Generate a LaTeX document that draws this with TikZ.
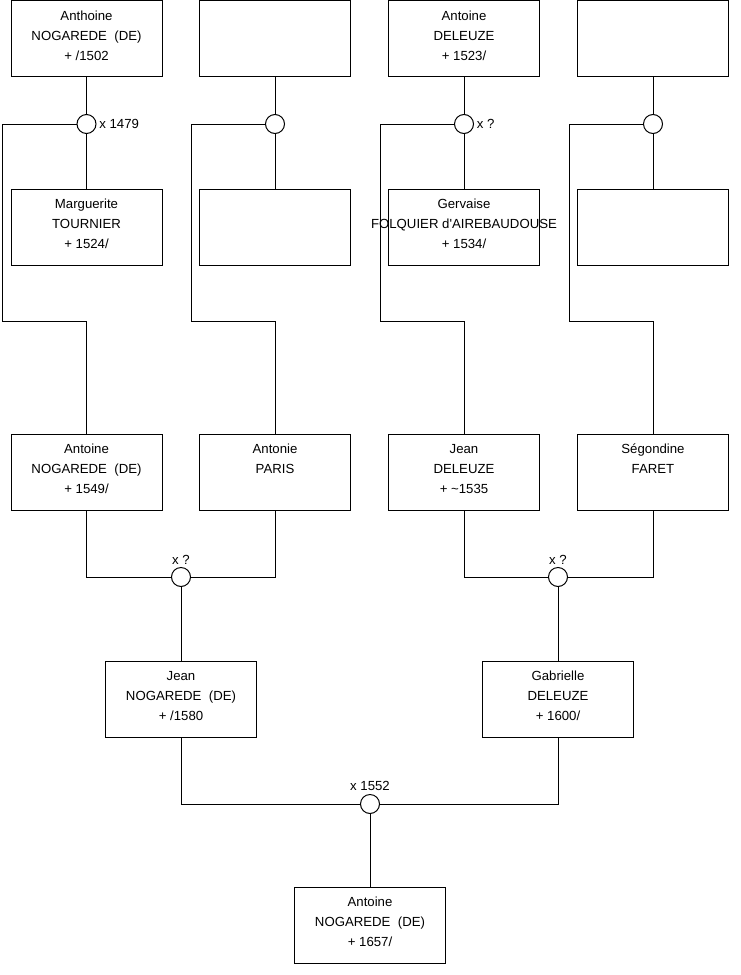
\documentclass[tikz,border=0pt]{standalone}
\usepackage{fontspec}
\setmainfont{Liberation Sans}
\usetikzlibrary{positioning, calc}

\begin{document}
\begin{tikzpicture}[
      x=0.75pt, y=-0.75pt,
      line width=0.75pt,
      person/.style={rectangle, draw, minimum width=113.25pt, minimum height=57pt, inner sep=0pt},
      who/.style={anchor=north, yshift=-7.6pt, align=center, inner sep=0pt, font=\fontsize{9.9}{15}\selectfont},
      union/.style={circle, draw, fill=white, minimum size=14.25pt, inner sep=0pt},
      wed/.style={inner sep=1.8pt, font=\fontsize{9.9}{11}\selectfont},
      link/.style={line width=0.75pt}
    ]
    \useasboundingbox (0,0) rectangle (740,975);

    \node[person, label={[who]north:{Anthoine\\NOGAREDE~ (DE)\\+ /1502}}] (p1) at (86.5,38.5) {};
    \node[person] (p2) at (275,38.5) {};
    \node[person, label={[who]north:{Antoine\\DELEUZE\\+ 1523/}}] (p3) at (464,38.5) {};
    \node[person] (p4) at (653,38.5) {};

    \node[person, label={[who]north:{Marguerite\\TOURNIER\\+ 1524/}}] (q1) at (86.5,227) {};
    \node[person] (q2) at (275,227) {};
    \node[person, label={[who]north:{Gervaise\\FOLQUIER d\textquotesingle AIREBAUDOUSE\\+ 1534/}}] (q3) at (464,227) {};
    \node[person] (q4) at (653,227) {};

    \node[person, label={[who]north:{Antoine\\NOGAREDE~ (DE)\\+ 1549/}}] (r1) at (86.5,472) {};
    \node[person, label={[who]north:{Antonie\\PARIS}}] (r2) at (275,472) {};
    \node[person, label={[who]north:{Jean\\DELEUZE\\+ \textasciitilde1535}}] (r3) at (464,472) {};
    \node[person, label={[who]north:{Ségondine\\FARET}}] (r4) at (653,472) {};

    \node[person, label={[who]north:{Jean\\NOGAREDE~ (DE)\\+ /1580}}] (s1) at (181,699) {};
    \node[person, label={[who]north:{Gabrielle\\DELEUZE\\+ 1600/}}] (s2) at (558,699) {};

    \node[person, label={[who]north:{Antoine\\NOGAREDE~ (DE)\\+ 1657/}}] (t1) at (370,925) {};

    \node[union, label={[wed, anchor=west]east:x 1479}] (m1) at (86.5,124) {};
    \node[union] (m2) at (275,124) {};
    \node[union, label={[wed, anchor=west]east:x ?}] (m3) at (464,124) {};
    \node[union] (m4) at (653,124) {};

    \node[union, label={[wed, anchor=south]north:x ?}] (n1) at (181,577) {};
    \node[union, label={[wed, anchor=south]north:x ?}] (n2) at (558,577) {};

    \node[union, label={[wed, anchor=south]north:x 1552}] (o1) at (370,804) {};

    \draw[link] (p1) -- (m1);
    \draw[link] (m1) -- (q1);
    \draw[link] (m1.west) -| (2,321) -| (r1.north);
    \draw[link] (p2) -- (m2);
    \draw[link] (m2) -- (q2);
    \draw[link] (m2.west) -| (191,321) -| (r2.north);
    \draw[link] (p3) -- (m3);
    \draw[link] (m3) -- (q3);
    \draw[link] (m3.west) -| (380,321) -| (r3.north);
    \draw[link] (p4) -- (m4);
    \draw[link] (m4) -- (q4);
    \draw[link] (m4.west) -| (569,321) -| (r4.north);

    \draw[link] (r1.south) |- (n1.west);
    \draw[link] (r2.south) |- (n1.east);
    \draw[link] (n1) -- (s1);
    \draw[link] (r3.south) |- (n2.west);
    \draw[link] (r4.south) |- (n2.east);
    \draw[link] (n2) -- (s2);

    \draw[link] (s1.south) |- (o1.west);
    \draw[link] (s2.south) |- (o1.east);
    \draw[link] (o1) -- (t1);
  \end{tikzpicture}
\end{document}
